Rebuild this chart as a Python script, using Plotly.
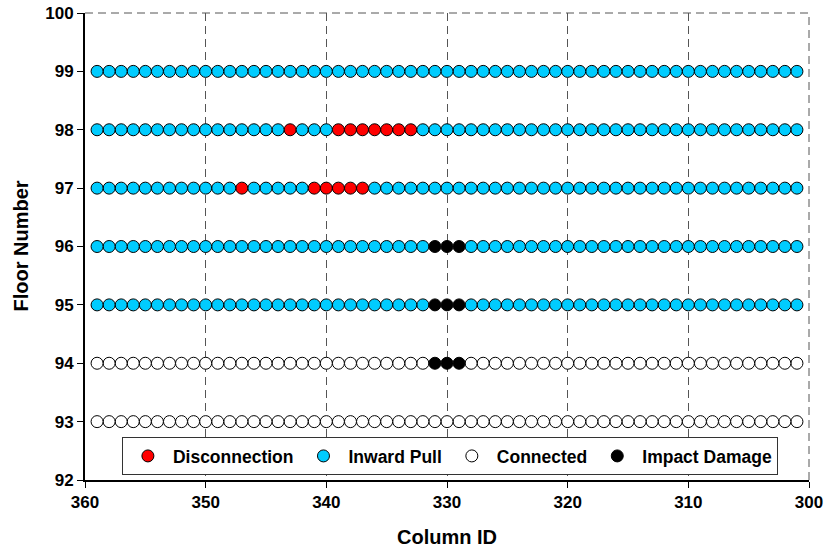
import plotly.graph_objects as go

# ---- data ----
column_ids = list(range(301, 360))          # columns 301 .. 359
inward_pull_floors = [99, 98, 97, 96, 95]
connected_floors = [94, 93]
disconnection_floor98 = [343, 339, 338, 337, 336, 335, 334, 333]
disconnection_floor97 = [347, 341, 340, 339, 338, 337]
impact_floors = [96, 95, 94]
impact_columns = [331, 330, 329]
x_ticks = [360, 350, 340, 330, 320, 310, 300]
y_ticks = [92, 93, 94, 95, 96, 97, 98, 99, 100]

# ---- classification ----
disconnected = {(98, c) for c in disconnection_floor98} | {(97, c) for c in disconnection_floor97}
impacted = {(f, c) for f in impact_floors for c in impact_columns}

cats = {"Disconnection": ([], []), "Inward Pull": ([], []), "Connected": ([], []), "Impact Damage": ([], [])}
for f in inward_pull_floors + connected_floors:
    for c in column_ids:
        if (f, c) in impacted:
            k = "Impact Damage"
        elif (f, c) in disconnected:
            k = "Disconnection"
        elif f in inward_pull_floors:
            k = "Inward Pull"
        else:
            k = "Connected"
        cats[k][0].append(c)
        cats[k][1].append(f)

colors = {"Disconnection": "#FF0000", "Inward Pull": "#00CCFF", "Connected": "#FFFFFF", "Impact Damage": "#000000"}

FONT = "Liberation Sans, Arial, sans-serif"
fig = go.Figure()
for name, (xs, ys) in cats.items():
    fig.add_trace(go.Scatter(
        x=xs, y=ys, mode="markers", name=name,
        marker=dict(size=12, color=colors[name], line=dict(color="#000000", width=1)),
    ))

fig.update_layout(
    width=827, height=552,
    margin=dict(l=85, r=18, t=13, b=72),
    paper_bgcolor="white", plot_bgcolor="white",
    font=dict(family=FONT, size=17, color="black", weight="bold"),
    showlegend=True,
    legend=dict(
        orientation="h", x=0.504, xanchor="center", y=0.092, yanchor="top",
        bgcolor="white", bordercolor="#333333", borderwidth=1,
        font=dict(family=FONT, size=17.5, color="black", weight="bold"),
        itemwidth=40,
    ),
    xaxis=dict(
        range=[360, 300], tickvals=x_ticks, ticktext=[str(v) for v in x_ticks],
        showgrid=True, gridcolor="#555555", griddash="8px,5px", gridwidth=1,
        showline=True, linecolor="black", linewidth=2,
        ticks="outside", ticklen=6, tickcolor="black",
        tickfont=dict(family=FONT, size=17, weight="bold"),
        automargin=False, zeroline=False,
    ),
    yaxis=dict(
        range=[92, 100], tickvals=y_ticks, ticktext=[str(v) for v in y_ticks],
        showgrid=False,
        showline=True, linecolor="black", linewidth=2,
        ticks="outside", ticklen=6, tickcolor="black",
        tickfont=dict(family=FONT, size=17, weight="bold"),
        automargin=False, zeroline=False,
    ),
    annotations=[
        dict(text="Column ID", xref="paper", yref="paper", x=0.5, y=0,
             xanchor="center", yanchor="middle", yshift=-57, showarrow=False,
             font=dict(family=FONT, size=20, weight="bold", color="black")),
        dict(text="Floor Number", xref="paper", yref="paper", x=0, y=0.5,
             xanchor="center", yanchor="middle", xshift=-65, textangle=-90, showarrow=False,
             font=dict(family=FONT, size=20, weight="bold", color="black")),
    ],
    shapes=[
        dict(type="line", xref="paper", yref="paper", x0=0, x1=1, y0=1, y1=1,
             line=dict(color="#555555", width=1, dash="8px,5px"), layer="below"),
        dict(type="line", xref="paper", yref="paper", x0=1, x1=1, y0=0, y1=1,
             line=dict(color="#555555", width=1, dash="8px,5px"), layer="below"),
    ],
)

# remove the default 8px page margin so the figure fills the window exactly
fig.write_html("out.html", config={"displayModeBar": False},
               post_script="document.body.style.margin='0';")
